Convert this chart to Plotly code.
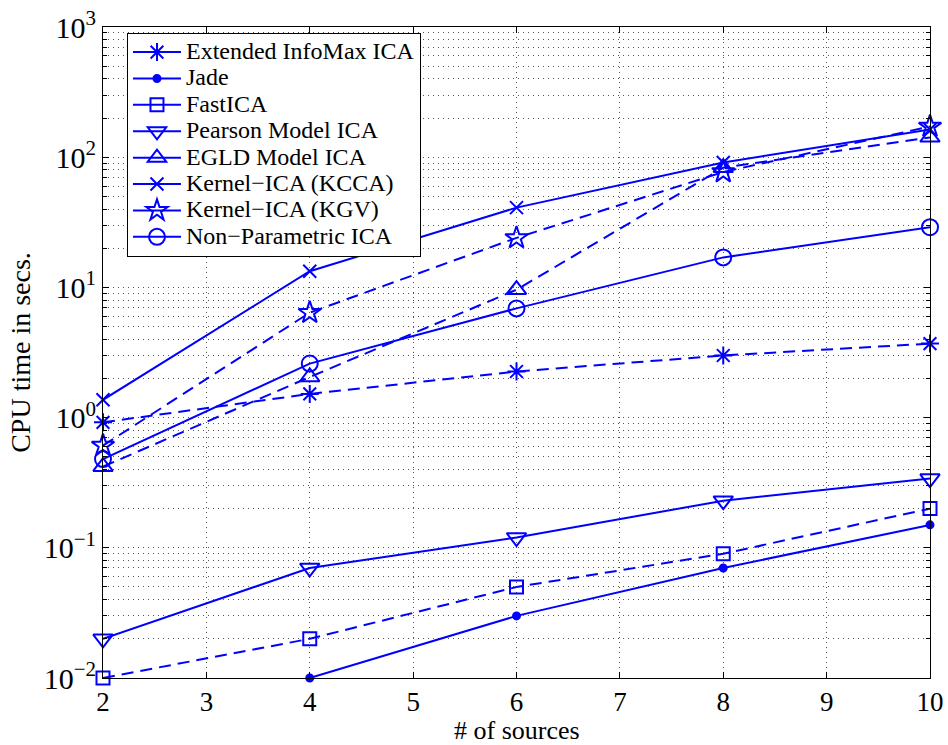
import plotly.graph_objects as go

# Number of sources
sources = [2, 4, 6, 8, 10]

# CPU time (seconds) for each method
infomax = [0.92, 1.52, 2.26, 3.0, 3.7]
jade = [None, 0.01, 0.03, 0.07, 0.15]
fastica = [0.01, 0.02, 0.05, 0.09, 0.2]
pearson = [0.02, 0.07, 0.12, 0.23, 0.34]
egld = [0.42, 2.05, 9.6, 83, 142]
kcca = [1.37, 13.3, 41, 91, 163]
kgv = [0.61, 6.4, 24, 77, 172]
nonpar = [0.48, 2.6, 6.9, 17, 29]

names = ["Extended InfoMax ICA", "Jade", "FastICA", "Pearson Model ICA",
         "EGLD Model ICA", "Kernel\u2212ICA (KCCA)", "Kernel\u2212ICA (KGV)",
         "Non\u2212Parametric ICA"]

x_ticks = [2, 3, 4, 5, 6, 7, 8, 9, 10]
y_exponents = [-2, -1, 0, 1, 2, 3]

BLUE = "#0000ff"
FONT = "Liberation Serif"
DASHED = "12px,7px"
GRID = dict(showgrid=True, gridcolor="#555555", gridwidth=1, griddash="1px,4px")

series = [
    (infomax, DASHED, "asterisk-open", 15),
    (jade, "solid", "circle", 7),
    (fastica, DASHED, "square-open", 13),
    (pearson, "solid", "triangle-down-open", 17),
    (egld, DASHED, "triangle-up-open", 17),
    (kcca, "solid", "x-thin-open", 13),
    (kgv, DASHED, "star-open", 17),
    (nonpar, "solid", "circle-open", 16),
]

fig = go.Figure()

for name, (vals, dash, sym, size) in zip(names, series):
    fig.add_trace(go.Scatter(
        x=sources, y=vals, mode="lines+markers", name=name,
        showlegend=False, legendgroup=name, cliponaxis=False,
        line=dict(color=BLUE, width=2, dash=dash),
        marker=dict(symbol=sym, size=size, color=BLUE,
                    line=dict(color=BLUE, width=2)),
    ))

# Legend keys are drawn with solid line samples
for name, (vals, dash, sym, size) in zip(names, series):
    fig.add_trace(go.Scatter(
        x=[None], y=[None], mode="lines+markers",
        name='<span style="font-size:24px">%s</span>' % name,
        legendgroup=name,
        line=dict(color=BLUE, width=2),
        marker=dict(symbol=sym, size=size, color=BLUE,
                    line=dict(color=BLUE, width=2)),
    ))

minor_vals = [k * 10.0 ** e for e in y_exponents[:-1] for k in range(2, 10)]

fig.update_layout(
    width=948, height=745,
    margin=dict(l=103, r=18, t=27, b=67, autoexpand=False),
    paper_bgcolor="white", plot_bgcolor="white",
    font=dict(family=FONT, color="black", size=28),
    showlegend=True,
    legend=dict(
        x=0.029, y=0.991, xanchor="left", yanchor="top",
        bgcolor="white", bordercolor="black", borderwidth=1,
        font=dict(family=FONT, size=18, color="black"),
        tracegroupgap=0, itemwidth=48,
    ),
    xaxis=dict(
        range=[2, 10], tickvals=x_ticks, ticktext=[str(v) for v in x_ticks],
        ticks="inside", ticklen=6, tickcolor="black",
        showline=True, linecolor="black", linewidth=1, mirror="ticks",
        zeroline=False, automargin=False,
        tickfont=dict(size=27),
        **GRID,
    ),
    yaxis=dict(
        type="log", range=[-2, 3],
        tickvals=[10.0 ** e for e in y_exponents],
        ticktext=["10<sup>%d</sup>" % e if e >= 0 else "10<sup>\u2212%d</sup>" % -e
                  for e in y_exponents],
        ticks="inside", ticklen=6, tickcolor="black",
        showline=True, linecolor="black", linewidth=1, mirror="ticks",
        zeroline=False, automargin=False,
        minor=dict(tickmode="array", tickvals=minor_vals, ticks="inside",
                   ticklen=4, tickcolor="black", **GRID),
        title=dict(text="CPU time in secs.", font=dict(size=28), standoff=4),
        tickfont=dict(size=30),
        **GRID,
    ),
    annotations=[dict(
        text="# of sources", x=0.5, xref="paper", y=0, yref="paper",
        xanchor="center", yanchor="middle", yshift=-52, showarrow=False,
        font=dict(family=FONT, size=26, color="black"),
    )],
)

fig.write_html("out.html")
